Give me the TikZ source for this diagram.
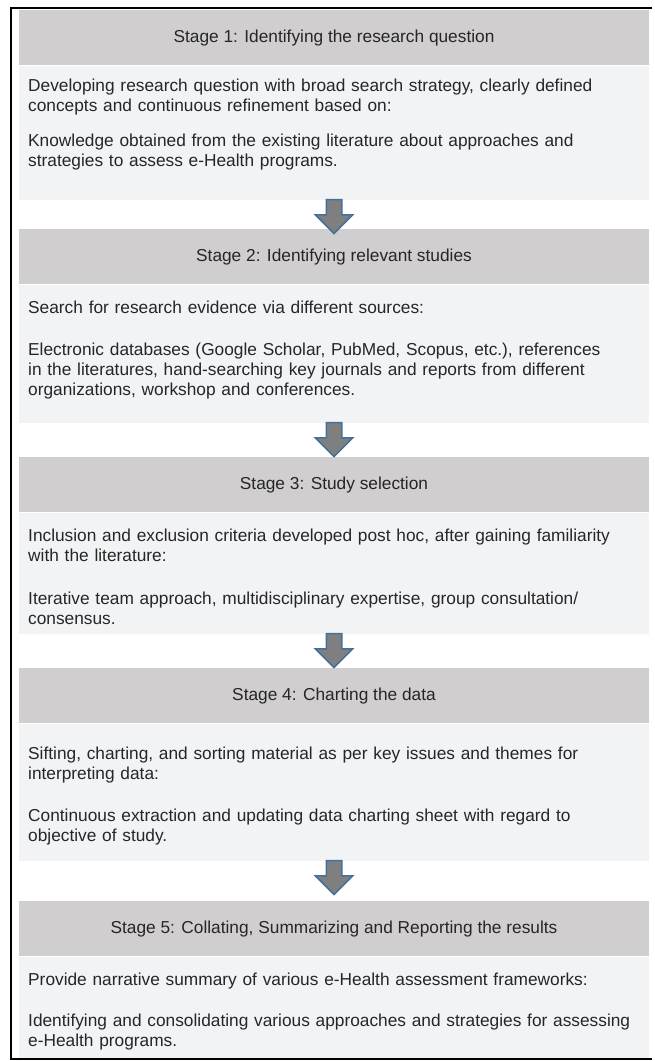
\documentclass[tikz,border=0pt]{standalone}
\usepackage{fontspec}
\setmainfont{Liberation Sans}
\usepackage{xcolor}
\usepackage{tikz}
\usetikzlibrary{shapes.arrows}

\definecolor{headfill}{RGB}{208,206,206}
\definecolor{bodyfill}{RGB}{242,243,245}
\definecolor{arrowfill}{RGB}{127,127,127}
\definecolor{arrowline}{RGB}{65,113,156}
\definecolor{textgray}{RGB}{38,38,38}

\begin{document}
\begin{tikzpicture}[x=1pt, y=-1pt, font=\fontsize{17.3}{20}\selectfont, text=textgray]
\useasboundingbox (0,0) rectangle (655,1061);
\draw[line width=1.4pt] (652,8) -- (11,8) -- (11,1059) -- (652,1059);
\tikzstyle{head} = [rectangle, fill=headfill, minimum width=630pt, minimum height=55pt, inner sep=0pt, anchor=north]
\tikzstyle{body} = [rectangle, fill=bodyfill, minimum width=630pt, inner sep=0pt, anchor=north]
\tikzstyle{txt} = [anchor=base west, text width=622pt, align=left, inner sep=0pt]
\tikzstyle{down} = [single arrow, shape border rotate=270, anchor=tail, fill=arrowfill, draw=arrowline, line width=1.5pt, inner sep=7pt, single arrow head extend=11pt, minimum width=36pt, minimum height=34pt]
\node[head] (h1) at (334,10) {Stage 1: Identifying the research question};
\node[body, minimum height=134pt] (b1) at (h1.south) {};
\node[txt] (t1) at (28,91) {Developing research question with broad search strategy, clearly defined\\concepts and continuous refinement based on:\\[15pt]Knowledge obtained from the existing literature about approaches and\\strategies to assess e-Health programs.};
\node[head] (h2) at (334,229) {Stage 2: Identifying relevant studies};
\node[body, minimum height=138pt] (b2) at (h2.south) {};
\node[txt] (t2) at (28,313) {Search for research evidence via different sources:\\[22pt]Electronic databases (Google Scholar, PubMed, Scopus, etc.), references\\in the literatures, hand-searching key journals and reports from different\\organizations, workshop and conferences.};
\node[head] (h3) at (334,457) {Stage 3: Study selection};
\node[body, minimum height=121pt] (b3) at (h3.south) {};
\node[txt] (t3) at (28,541) {Inclusion and exclusion criteria developed post hoc, after gaining familiarity\\with the literature:\\[23pt]Iterative team approach, multidisciplinary expertise, group consultation/\\consensus.};
\node[head] (h4) at (334,668) {Stage 4: Charting the data};
\node[body, minimum height=137pt] (b4) at (h4.south) {};
\node[txt] (t4) at (28,759) {Sifting, charting, and sorting material as per key issues and themes for\\interpreting data:\\[22pt]Continuous extraction and updating data charting sheet with regard to\\objective of study.};
\node[head] (h5) at (334,901) {Stage 5: Collating, Summarizing and Reporting the results};
\node[body, minimum height=101pt] (b5) at (h5.south) {};
\node[txt] (t5) at (28,985) {Provide narrative summary of various e-Health assessment frameworks:\\[21pt]Identifying and consolidating various approaches and strategies for assessing\\e-Health programs.};
\node[down] (a1) at ([yshift=1pt]b1.south) {};
\node[down] (a2) at ([yshift=1pt]b2.south) {};
\node[down] (a3) at ([yshift=1pt]b3.south) {};
\node[down] (a4) at ([yshift=1pt]b4.south) {};
\end{tikzpicture}
\end{document}
